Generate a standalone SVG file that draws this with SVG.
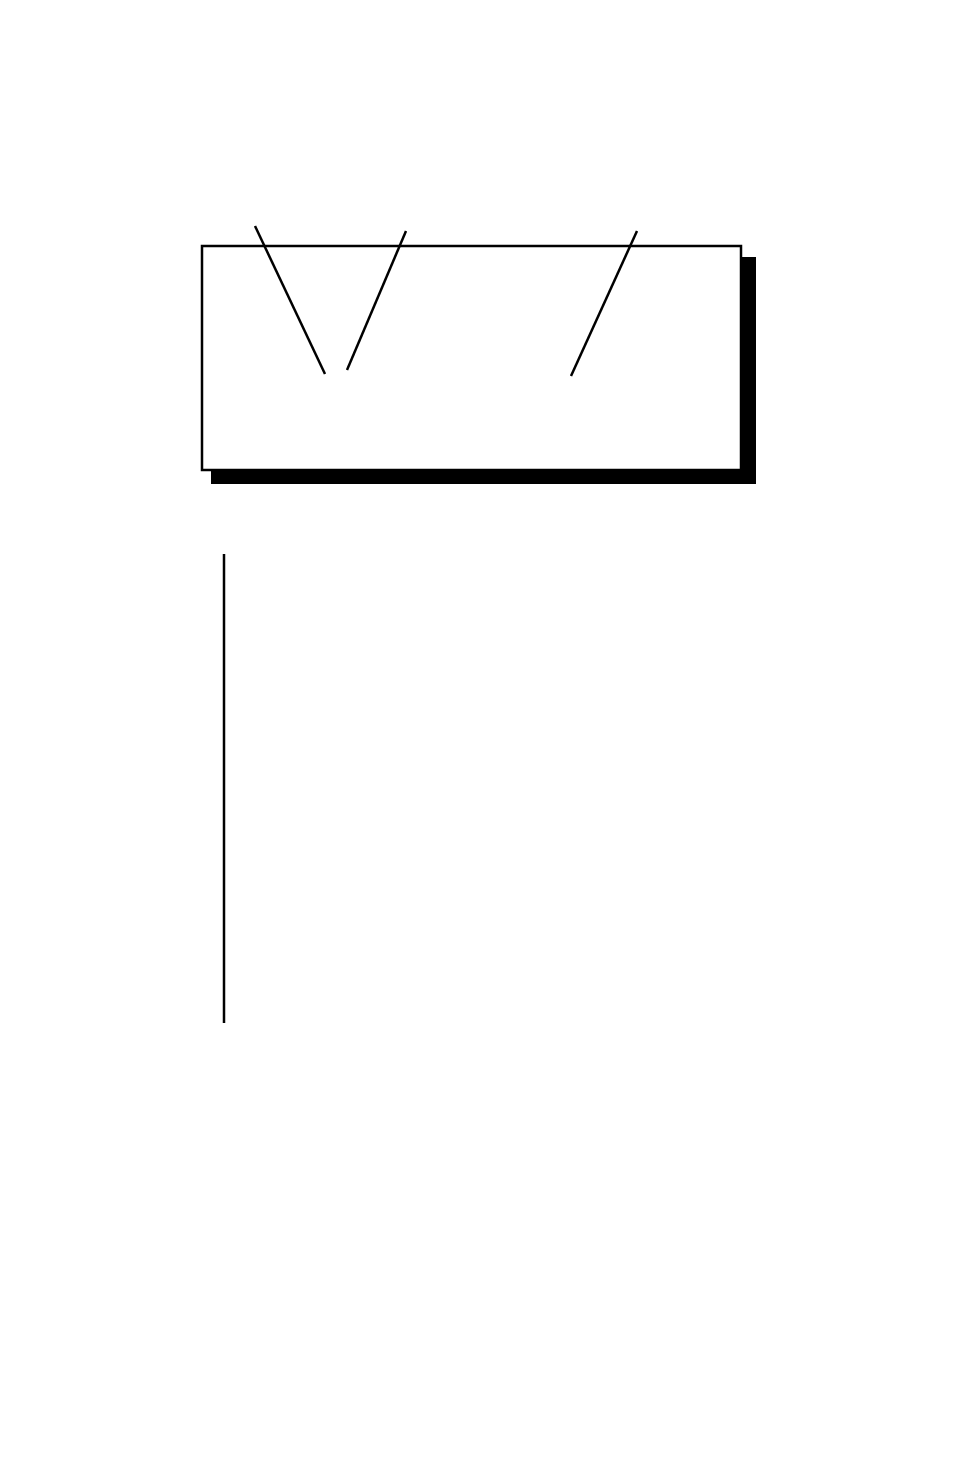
<svg xmlns="http://www.w3.org/2000/svg" width="954" height="1474" viewBox="0 0 954 1474">
<style>
.ln{stroke:#000;stroke-width:2.5;fill:none}
.box{fill:#fff;stroke:#000;stroke-width:2.5}
</style>
<rect width="954" height="1474" fill="#fff"/>
<g id="node-box">
<rect x="211" y="257" width="545" height="227" fill="#000"/>
<rect class="box" x="202" y="246" width="539" height="224"/>
</g>
<g id="connectors">
<line class="ln" x1="255" y1="226" x2="325" y2="374"/>
<line class="ln" x1="406" y1="231" x2="347" y2="370"/>
<line class="ln" x1="637" y1="231" x2="571" y2="376"/>
<line class="ln" x1="224" y1="554" x2="224" y2="1023"/>
</g>
</svg>
